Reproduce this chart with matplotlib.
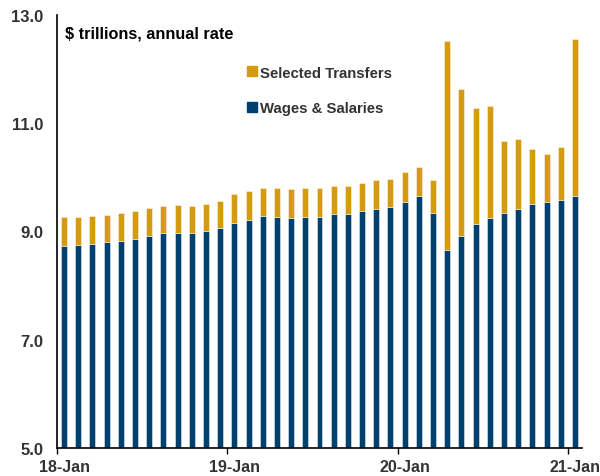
import numpy as np
import matplotlib
matplotlib.use("Agg")
import matplotlib.pyplot as plt
from matplotlib.lines import Line2D

# monthly, Jan 2018 .. Jan 2021, $ trillions (SAAR)
wages = [8.74, 8.75, 8.77, 8.80, 8.82, 8.87, 8.92, 8.97, 8.98, 8.98, 9.00, 9.07,
         9.16, 9.22, 9.29, 9.27, 9.25, 9.27, 9.27, 9.32, 9.33, 9.38, 9.42, 9.46,
         9.55, 9.65, 9.35, 8.66, 8.92, 9.13, 9.24, 9.35, 9.42, 9.50, 9.55, 9.59,
         9.66]
transfers = [0.52, 0.52, 0.52, 0.51, 0.52, 0.51, 0.51, 0.51, 0.51, 0.50, 0.50, 0.49,
             0.53, 0.52, 0.51, 0.53, 0.53, 0.53, 0.53, 0.52, 0.51, 0.51, 0.53, 0.51,
             0.54, 0.54, 0.60, 3.86, 2.71, 2.16, 2.08, 1.32, 1.29, 1.02, 0.89, 0.97,
             2.90]
year_labels = ["18-Jan", "19-Jan", "20-Jan", "21-Jan"]
yticks = [5.0, 7.0, 9.0, 11.0, 13.0]

GOLD = "#d59b10"
NAVY = "#00406e"
plt.rcParams["font.family"] = ["Liberation Sans", "DejaVu Sans"]
plt.rcParams["font.weight"] = "bold"

fig = plt.figure(figsize=(6, 4.77), dpi=100)
ax = fig.add_axes([0.095, 0.0587, 0.875, 0.9078])

x = np.arange(len(wages)) + 0.5
base = 5.0
w = np.array(wages)
t = np.array(transfers)
ax.bar(x, w - base, bottom=base, width=0.42, color=NAVY,
       edgecolor=(1, 1, 1, 0.45), linewidth=0.7)
ax.bar(x, t, bottom=w, width=0.42, color=GOLD,
       edgecolor=(1, 1, 1, 0.45), linewidth=0.7)

ax.set_xlim(0, len(wages))
ax.set_ylim(5.0, 13.0)

# labels sit on the January bars, tick marks on the year boundaries
jan = np.arange(0, len(wages), 12)
ax.set_xticks(jan + 0.5)
ax.set_xticklabels(year_labels, fontsize=11.5, color="#333333", fontweight="bold")
ax.set_xticks(jan, minor=True)
ax.tick_params(axis="x", which="major", length=0, pad=8)
ax.tick_params(axis="x", which="minor", length=4, width=1, direction="out", color="black")

ax.set_yticks(yticks)
ax.set_yticklabels([f"{v:.1f}" for v in yticks], fontsize=12, color="#333333",
                   fontweight="bold")
ax.tick_params(axis="y", length=0, pad=10)

for side in ["top", "right"]:
    ax.spines[side].set_visible(False)
for side in ["left", "bottom"]:
    ax.spines[side].set_color("black")
    ax.spines[side].set_linewidth(1.2)

fig.text(0.108, 0.929, "$ trillions, annual rate", fontsize=11.7, fontweight="bold",
         color="black", ha="left", va="center")

handles = [
    Line2D([], [], marker="s", linestyle="none", markersize=6.5, color=GOLD),
    Line2D([], [], marker="s", linestyle="none", markersize=6.5, color=NAVY),
]
leg = fig.legend(handles, ["Selected Transfers", "Wages & Salaries"],
                 loc="upper left", bbox_to_anchor=(0.398, 0.876), frameon=False,
                 fontsize=10.7, labelspacing=1.45, handlelength=0.8,
                 handletextpad=0.15, borderpad=0)
for txt in leg.get_texts():
    txt.set_color("#333333")
    txt.set_fontweight("bold")

fig.savefig("out.png", dpi=100)
